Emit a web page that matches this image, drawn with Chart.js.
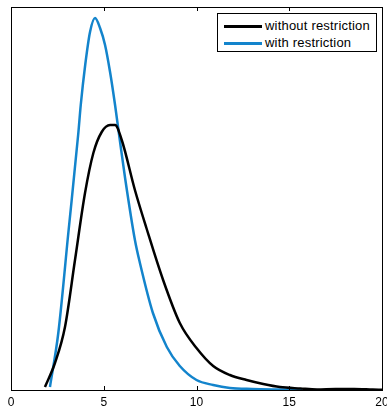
<!DOCTYPE html>
<html>
<head>
<meta charset="utf-8">
<script src="https://cdn.jsdelivr.net/npm/chart.js@4/dist/chart.umd.min.js"></script>
<style>
  html, body { margin: 0; padding: 0; background: #fff; }
  #wrap { position: relative; width: 387px; height: 410px; }
  #legend {
    position: absolute; left: 217px; top: 13px; width: 158px; height: 37px;
    border: 1px solid #000; background: #fff;
    font: 13px "Liberation Sans", Arial, sans-serif; letter-spacing: 0.2px; color: #000;
  }
  #legend .row { position: absolute; left: 0; height: 14px; line-height: 14px; }
  #legend .swatch { position: absolute; left: 6px; top: 6px; width: 38px; height: 2.5px; }
  #legend .lbl { position: absolute; left: 47px; top: 0; white-space: nowrap; }
</style>
</head>
<body>
<div id="wrap">
  <canvas id="chart" width="387" height="410"></canvas>
  <div id="legend"></div>
</div>
<script>
// density estimates
const seriesNames = ['without restriction', 'with restriction'];
const seriesColors = ['#000000', '#1384cc'];

const xWithout = [1.83, 2.37, 2.91, 3.45, 3.99, 4.44, 4.89, 5.34, 5.61, 5.97, 6.68, 7.3, 8.2, 9.1, 10.0, 10.9, 11.8, 12.7, 13.6, 14.5, 15.6, 16.5, 17.5, 18.5, 19.5, 20];
const yWithout = [0.003, 0.027, 0.063, 0.130, 0.197, 0.237, 0.258, 0.265, 0.265, 0.250, 0.200, 0.162, 0.110, 0.067, 0.042, 0.024, 0.015, 0.010, 0.006, 0.003, 0.0015, 0.0005, 0.001, 0.001, 0.0005, 0.0003];

const xWith = [2.1, 2.55, 3.09, 3.63, 3.76, 4.0, 4.26, 4.53, 4.8, 5.07, 5.34, 5.61, 5.88, 6.15, 6.68, 6.95, 7.65, 8.4, 9.1, 10.0, 10.9, 11.8, 13.0, 14.5, 15.7];
const yWith = [0.003, 0.057, 0.157, 0.257, 0.285, 0.325, 0.358, 0.372, 0.362, 0.345, 0.318, 0.285, 0.248, 0.212, 0.150, 0.127, 0.077, 0.043, 0.024, 0.010, 0.005, 0.002, 0.001, 0.0005, 0.0002];

const xTicks = [0, 5, 10, 15, 20];
const yMax = 0.383;

const toPoints = (xs, ys) => xs.map((x, i) => ({ x: x, y: ys[i] }));

// legend (html so the text stays text)
const legendEl = document.getElementById('legend');
seriesNames.forEach((name, i) => {
  const row = document.createElement('div');
  row.className = 'row';
  row.style.top = (5 + i * 17) + 'px';
  row.innerHTML = '<span class="swatch" style="background:' + seriesColors[i] + '"></span><span class="lbl">' + name + '</span>';
  legendEl.appendChild(row);
});

// box round the plot + inward ticks top and bottom
const boxPlugin = {
  id: 'box',
  afterDatasetsDraw(chart) {
    const ctx = chart.ctx;
    const a = chart.chartArea;
    const xs = chart.scales.x;
    ctx.save();
    ctx.strokeStyle = '#000';
    ctx.lineWidth = 1;
    ctx.strokeRect(Math.round(a.left) + 0.5, Math.round(a.top) + 0.5, Math.round(a.right - a.left), Math.round(a.bottom - a.top));
    ctx.beginPath();
    xTicks.forEach(t => {
      const px = Math.round(xs.getPixelForValue(t)) + 0.5;
      ctx.moveTo(px, a.bottom);
      ctx.lineTo(px, a.bottom - 4);
      ctx.moveTo(px, a.top);
      ctx.lineTo(px, a.top + 4);
    });
    ctx.stroke();
    ctx.restore();
  }
};

new Chart(document.getElementById('chart'), {
  type: 'line',
  data: {
    datasets: [
      {
        label: seriesNames[0],
        data: toPoints(xWithout, yWithout),
        borderColor: seriesColors[0],
        borderWidth: 2.5,
        pointRadius: 0,
        cubicInterpolationMode: 'monotone',
        fill: false
      },
      {
        label: seriesNames[1],
        data: toPoints(xWith, yWith),
        borderColor: seriesColors[1],
        borderWidth: 2.5,
        pointRadius: 0,
        cubicInterpolationMode: 'monotone',
        fill: false
      }
    ]
  },
  options: {
    responsive: false,
    animation: false,
    layout: { padding: { left: 11, right: 5, top: 7, bottom: 0 } },
    plugins: {
      legend: { display: false },
      tooltip: { enabled: false }
    },
    scales: {
      x: {
        type: 'linear',
        min: 0,
        max: 20,
        afterBuildTicks(scale) { scale.ticks = xTicks.map(v => ({ value: v })); },
        afterFit(scale) {
          scale.height = 20;
          scale.paddingLeft = 0;
          scale.paddingRight = 0;
        },
        grid: { display: false, drawTicks: false },
        border: { display: false },
        ticks: {
          padding: 5,
          color: '#000',
          font: { family: '"Liberation Sans", Arial, sans-serif', size: 12 },
          maxRotation: 0
        }
      },
      y: {
        display: false,
        min: 0,
        max: yMax
      }
    }
  },
  plugins: [boxPlugin]
});
</script>
</body>
</html>
